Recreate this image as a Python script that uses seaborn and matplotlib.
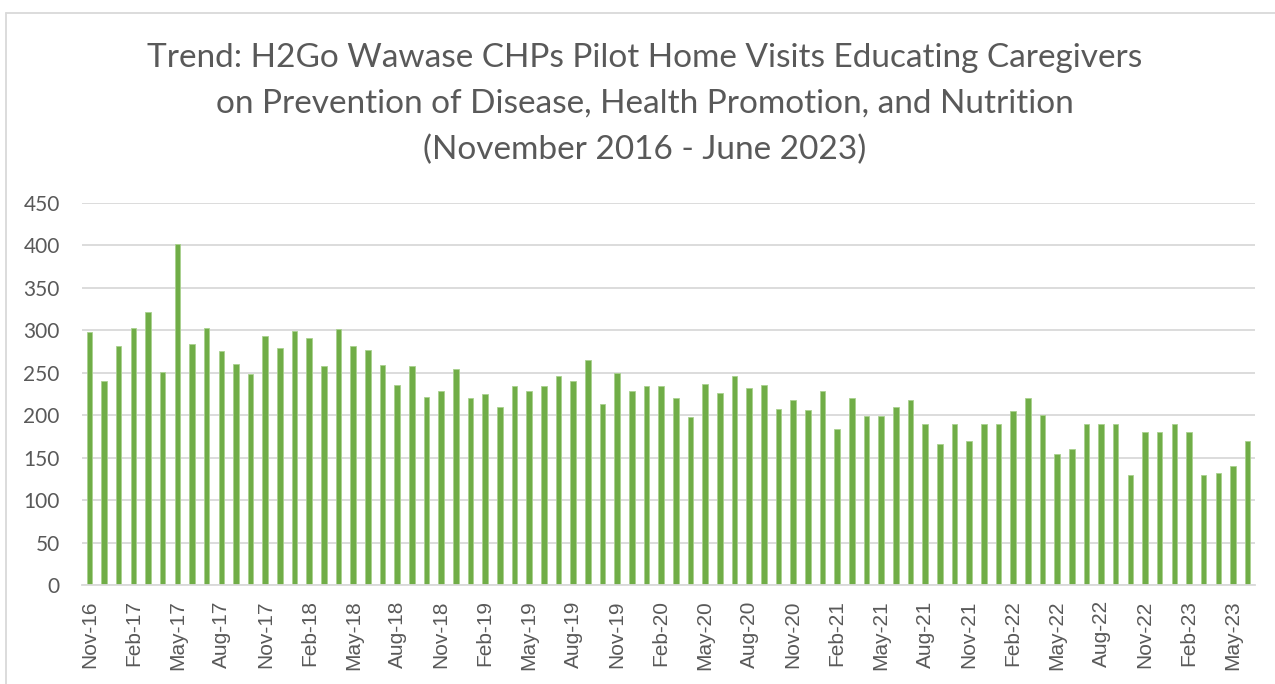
import matplotlib
matplotlib.use("Agg")
import matplotlib.pyplot as plt
from matplotlib.lines import Line2D
import seaborn as sns
import pandas as pd

# ---- data ----
start_year = 2016
start_month = 11
month_abbr = ["Jan", "Feb", "Mar", "Apr", "May", "Jun",
              "Jul", "Aug", "Sep", "Oct", "Nov", "Dec"]
visits = [298, 240, 281, 303, 322, 251, 402, 284, 303, 276, 260, 248,
          293, 279, 299, 291, 258, 302, 282, 277, 259, 236, 258, 221,
          229, 255, 220, 225, 210, 235, 229, 234, 246, 240, 265, 213,
          250, 229, 235, 234, 220, 198, 237, 226, 246, 232, 236, 207,
          218, 206, 229, 184, 220, 199, 199, 210, 218, 190, 166, 190,
          170, 190, 190, 205, 220, 200, 154, 160, 190, 190, 190, 130,
          180, 180, 190, 180, 130, 132, 140, 170]
yticks = [0, 50, 100, 150, 200, 250, 300, 350, 400, 450]
title = ("Trend: H2Go Wawase CHPs Pilot Home Visits Educating Caregivers\n"
         "on Prevention of Disease, Health Promotion, and Nutrition\n"
         "(November 2016 - June 2023)")

months = []
for i in range(len(visits)):
    m = (start_month - 1 + i) % 12
    y = start_year + (start_month - 1 + i) // 12
    months.append(f"{month_abbr[m]}-{y % 100:02d}")
df = pd.DataFrame({"month": months, "visits": visits})

# ---- style ----
W, H = 1275, 684
DPI = 100
text_col = "#595959"
grid_col = "#D9D9D9"
bar_col = "#70AD47"

sns.set_theme(style="white")
plt.rcParams["font.family"] = ["Lato", "DejaVu Sans"]

fig = plt.figure(figsize=(W / DPI, H / DPI), dpi=DPI)
fig.patch.set_facecolor("white")

left, right, top, bottom = 82, 1255, 203, 585
ax = fig.add_axes([left / W, (H - bottom) / H, (right - left) / W, (bottom - top) / H])

sns.barplot(data=df, x="month", y="visits", color=bar_col, width=0.38,
            saturation=1, ax=ax, edgecolor="#A9D18E", linewidth=0.6)

ax.set_xlim(-0.5, len(visits) - 0.5)
ax.set_ylim(0, 450)
ax.set_yticks(yticks)
ax.set_yticklabels([str(v) for v in yticks], fontsize=15, color=text_col)
ax.yaxis.grid(True, color=grid_col, linewidth=1.3)
ax.set_axisbelow(True)
ax.tick_params(axis="y", length=0, pad=16)

idx = list(range(0, len(visits), 3))
ax.set_xticks(idx)
ax.set_xticklabels([months[i] for i in idx], rotation=90, fontsize=15,
                   color=text_col, family=["Liberation Sans", "DejaVu Sans"])
ax.tick_params(axis="x", which="major", length=0, pad=11)
ax.set_xticks([i - 0.5 for i in idx] + [len(visits) - 0.5], minor=True)
ax.tick_params(axis="x", which="minor", length=5, width=1.2, color=grid_col)

for s in ["top", "right", "left"]:
    ax.spines[s].set_visible(False)
ax.spines["bottom"].set_color(grid_col)
ax.spines["bottom"].set_linewidth(1.3)
ax.set_xlabel("")
ax.set_ylabel("")

fig.text(645 / W, 1 - 43 / H, title, ha="center", va="top", fontsize=24,
         color=text_col, linespacing=1.65)

# chart-area border (top and left visible)
fig.add_artist(Line2D([6 / W, 6 / W], [0, 1 - 13 / H], transform=fig.transFigure,
                      color=grid_col, linewidth=1.3))
fig.add_artist(Line2D([6 / W, 1], [1 - 13 / H, 1 - 13 / H], transform=fig.transFigure,
                      color=grid_col, linewidth=1.3))

fig.savefig("out.png", dpi=DPI, facecolor="white")
